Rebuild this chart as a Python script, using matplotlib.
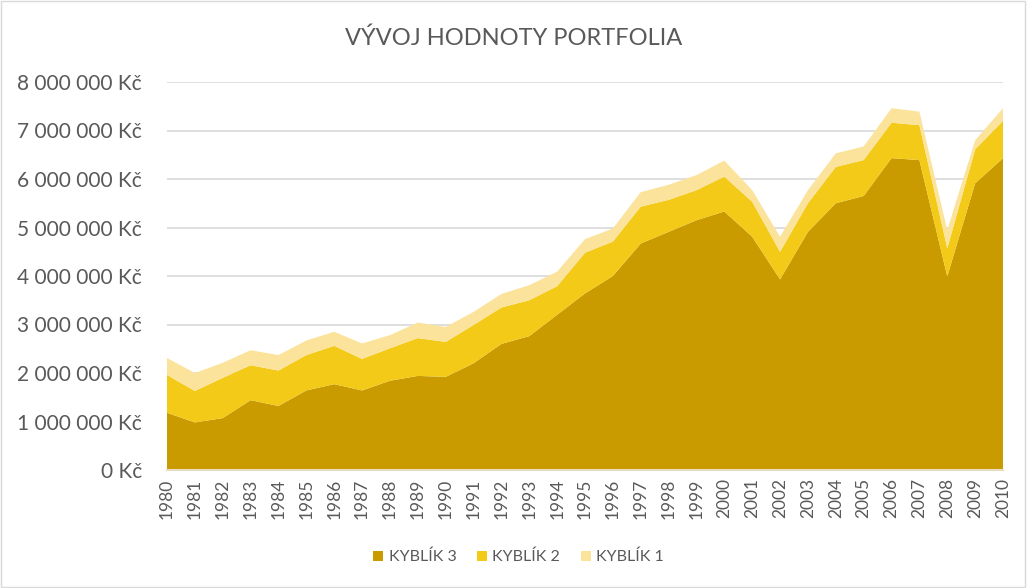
import numpy as np
import matplotlib.pyplot as plt
from matplotlib.ticker import FuncFormatter, MultipleLocator
from matplotlib.patches import Rectangle

plt.rcParams['font.family'] = ['Lato', 'DejaVu Sans']

years = list(range(1980, 2011))
# values in Kč
kyblik_3 = [1.18, 0.98, 1.07, 1.44, 1.32, 1.64, 1.77, 1.64, 1.84, 1.94, 1.92,
            2.20, 2.60, 2.76, 3.20, 3.64, 4.00, 4.67, 4.91, 5.15, 5.33,
            4.81, 3.93, 4.91, 5.50, 5.65, 6.43, 6.39, 3.99, 5.91, 6.43]
kyblik_2 = [0.78, 0.65, 0.83, 0.72, 0.73, 0.73, 0.79, 0.65, 0.67, 0.78, 0.72,
            0.79, 0.75, 0.74, 0.59, 0.84, 0.71, 0.76, 0.66, 0.62, 0.72,
            0.72, 0.57, 0.59, 0.75, 0.74, 0.73, 0.72, 0.58, 0.70, 0.77]
kyblik_1 = [0.35, 0.37, 0.31, 0.31, 0.32, 0.30, 0.29, 0.32, 0.27, 0.32, 0.31,
            0.27, 0.28, 0.31, 0.30, 0.28, 0.27, 0.30, 0.31, 0.31, 0.33,
            0.24, 0.31, 0.27, 0.28, 0.28, 0.30, 0.28, 0.38, 0.19, 0.26]
labels = ['KYBLÍK 3', 'KYBLÍK 2', 'KYBLÍK 1']
colors = ['#CA9B00', '#F3CA18', '#FCE39C']

k3 = np.array(kyblik_3) * 1e6
k2 = np.array(kyblik_2) * 1e6
k1 = np.array(kyblik_1) * 1e6

fig = plt.figure(figsize=(10.27, 5.88), dpi=100)
ax = fig.add_axes([167 / 1027, 1 - 470 / 588, 836 / 1027, 388 / 588])

ax.stackplot(years, k3, k2, k1, labels=labels, colors=colors, linewidth=0)

ax.set_xlim(1980, 2010)
ax.set_ylim(0, 8e6)
ax.yaxis.set_major_locator(MultipleLocator(1e6))
ax.yaxis.set_major_formatter(FuncFormatter(lambda v, p: f"{int(v):,}".replace(",", " ") + " Kč"))
ax.set_xticks(years)
ax.set_xticklabels([str(y) for y in years], rotation=90)

ax.grid(axis='y', color='#D9D9D9', linewidth=1.2)
ax.set_axisbelow(True)
for s in ['top', 'right', 'left']:
    ax.spines[s].set_visible(False)
ax.spines['bottom'].set_color('#E6DCC0')
ax.spines['bottom'].set_linewidth(1.5)
ax.tick_params(axis='both', length=0, colors='#595959')
ax.tick_params(axis='y', labelsize=15, pad=18)
ax.tick_params(axis='x', labelsize=12.5, pad=6)

fig.text(0.5, 1 - 38 / 588, 'VÝVOJ HODNOTY PORTFOLIA', ha='center', va='center',
         fontsize=17, color='#595959')

leg = fig.legend(loc='center', bbox_to_anchor=(0.505, 1 - 557 / 588), ncol=3,
                 frameon=False, fontsize=11.5, handlelength=0.6, handleheight=0.6,
                 columnspacing=1.3, handletextpad=0.35)
for t in leg.get_texts():
    t.set_color('#595959')

fig.patches.append(Rectangle((0.001, 0.001), 0.997, 0.997, transform=fig.transFigure,
                             fill=False, edgecolor='#D9D9D9', linewidth=1))

fig.savefig('out.png', dpi=100)
